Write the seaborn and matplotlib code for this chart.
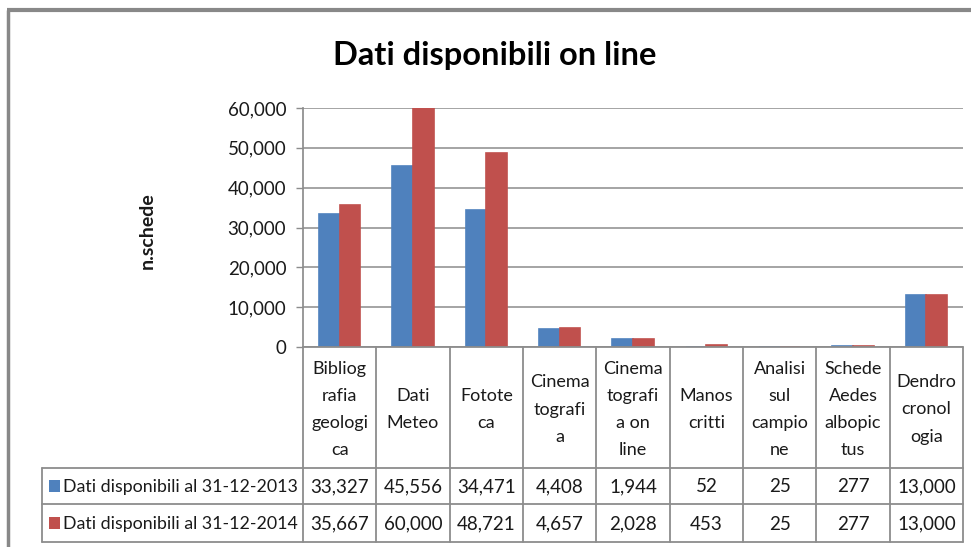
"""Dati disponibili on line - grouped bars with an Excel-style data table."""

import matplotlib

matplotlib.use("Agg")

import matplotlib.pyplot as plt
import pandas as pd
import seaborn as sns
from matplotlib.patches import Rectangle
from matplotlib.ticker import FuncFormatter

CATEGORIES = [
    "Bibliografia geologica",
    "Dati Meteo",
    "Fototeca",
    "Cinematografia",
    "Cinematografia on line",
    "Manoscritti",
    "Analisi sul campione",
    "Schede Aedes albopictus",
    "Dendrocronologia",
]
HEADER_LABELS = [
    "Bibliog\nrafia\ngeologi\nca",
    "Dati\nMeteo",
    "Fotote\nca",
    "Cinema\ntografi\na",
    "Cinema\ntografi\na on\nline",
    "Manos\ncritti",
    "Analisi\nsul\ncampio\nne",
    "Schede\nAedes\nalbopic\ntus",
    "Dendro\ncronol\nogia",
]
SERIES = ["Dati disponibili al 31-12-2013", "Dati disponibili al 31-12-2014"]
VALUES_2013 = [33327, 45556, 34471, 4408, 1944, 52, 25, 277, 13000]
VALUES_2014 = [35667, 60000, 48721, 4657, 2028, 453, 25, 277, 13000]
Y_TICKS = [0, 10000, 20000, 30000, 40000, 50000, 60000]

COLORS = ["#4F81BD", "#C0504D"]
LINE = "#8C8C8C"
TEXT = "#1a1a1a"

sns.set_theme(style="white")
plt.rcParams["font.family"] = ["Lato", "DejaVu Sans"]

data = pd.DataFrame(
    {
        "categoria": CATEGORIES * 2,
        "serie": [SERIES[0]] * len(CATEGORIES) + [SERIES[1]] * len(CATEGORIES),
        "valore": VALUES_2013 + VALUES_2014,
    }
)

W, H = 971, 547
fig = plt.figure(figsize=(W / 100, H / 100), dpi=100)

# plot area in pixel terms
left, right, top, bottom = 303, 963, 108, 347
ax = fig.add_axes([left / W, 1 - bottom / H, (right - left) / W, (bottom - top) / H])
sns.barplot(
    data=data, x="categoria", y="valore", hue="serie", palette=COLORS,
    width=0.56, saturation=1, legend=False, ax=ax, zorder=3,
)
for patch in ax.patches:
    patch.set_edgecolor(patch.get_facecolor())
    patch.set_linewidth(1.2)
ax.set_xlim(-0.5, len(CATEGORIES) - 0.5)
ax.set_ylim(0, 60000)
ax.set_yticks(Y_TICKS)
ax.yaxis.set_major_formatter(FuncFormatter(lambda v, _: f"{v:,.0f}"))
ax.tick_params(axis="y", labelsize=13.5, length=5, width=1, color=LINE, pad=7,
               left=True, labelcolor=TEXT)
ax.set_xticks([])
ax.set_xlabel("")
ax.set_ylabel("")
ax.grid(axis="y", color=LINE, linewidth=1.1, zorder=0)
for name in ["top", "right", "bottom"]:
    ax.spines[name].set_visible(False)
ax.spines["left"].set_color(LINE)
ax.patch.set_alpha(0)

# overlay in pixel coordinates for frame, title and data table
ov = fig.add_axes([0, 0, 1, 1])
ov.set_xlim(0, W)
ov.set_ylim(H, 0)
ov.axis("off")
ov.patch.set_alpha(0)

ov.plot([7, W], [10, 10], color="#888888", lw=3, solid_capstyle="butt")
ov.plot([8, 8], [10, H], color="#888888", lw=2.5, solid_capstyle="butt")
ov.text(495, 55, "Dati disponibili on line", ha="center", va="center",
        fontsize=23.5, fontweight="bold", color="black")
ov.text(147, 231, "n.schede", rotation=90, ha="center", va="center",
        fontsize=14, fontweight="bold", color=TEXT)

col_w = (right - left) / len(CATEGORIES)
header_bottom, row1_bottom, row2_bottom = 468, 504, 542
table_left = 42

# horizontal lines
ov.plot([left, right], [bottom, bottom], color=LINE, lw=1.3)
for yy in [header_bottom, row1_bottom, row2_bottom]:
    ov.plot([table_left, right], [yy, yy], color=LINE, lw=1.3)
ov.plot([table_left, table_left], [header_bottom, row2_bottom], color=LINE, lw=1.3)
for i in range(len(CATEGORIES) + 1):
    xx = left + i * col_w
    ov.plot([xx, xx], [bottom, row2_bottom], color=LINE, lw=1.3)

for i, label in enumerate(HEADER_LABELS):
    cx = left + (i + 0.5) * col_w
    ov.text(cx, (bottom + header_bottom) / 2 + 2, label, ha="center", va="center",
            fontsize=13, linespacing=1.85, color=TEXT)

rows = [(VALUES_2013, (header_bottom + row1_bottom) / 2),
        (VALUES_2014, (row1_bottom + row2_bottom) / 2)]
for k, (vals, cy) in enumerate(rows):
    ov.add_patch(Rectangle((49, cy - 6), 11, 12, facecolor=COLORS[k], edgecolor="none"))
    ov.text(63, cy + 1, SERIES[k], ha="left", va="center", fontsize=12.8, color=TEXT)
    for i, v in enumerate(vals):
        ov.text(left + (i + 0.5) * col_w, cy + 1, f"{v:,}", ha="center", va="center",
                fontsize=13.5, color=TEXT)

fig.savefig("out.png", dpi=100)
